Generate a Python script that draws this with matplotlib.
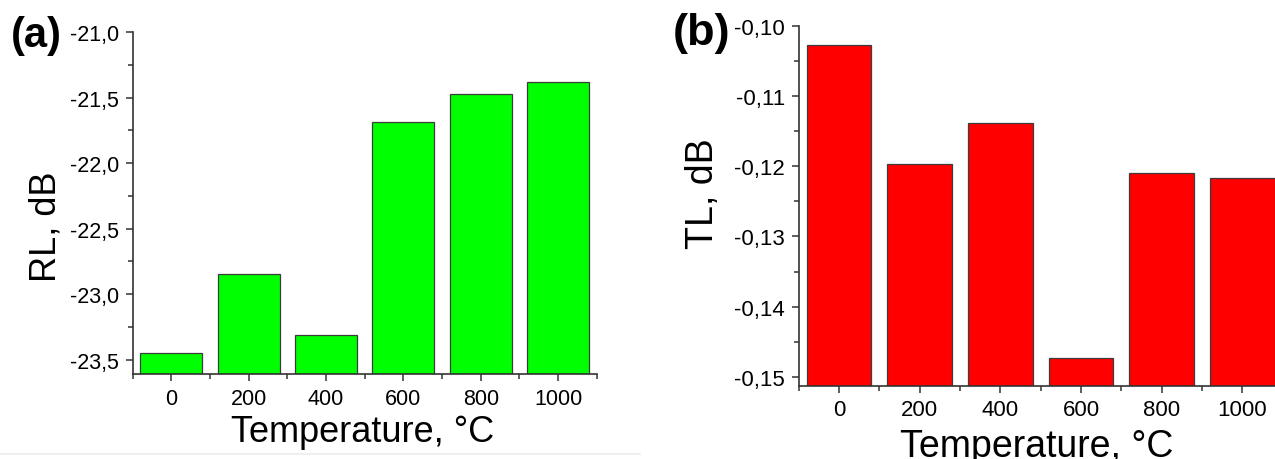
import matplotlib
matplotlib.use("Agg")
import matplotlib.pyplot as plt
from matplotlib.ticker import MultipleLocator, FixedLocator, FuncFormatter
from matplotlib.lines import Line2D

plt.rcParams['font.family'] = ['Liberation Sans', 'DejaVu Sans']

# Annealing temperatures (°C)
temperatures = [0, 200, 400, 600, 800, 1000]

# (a) reflection loss, dB
rl_values = [-23.45, -22.85, -23.31, -21.69, -21.47, -21.38]
# (b) transmission loss, dB
tl_values = [-0.1026, -0.1196, -0.1138, -0.1474, -0.1210, -0.1216]

x_ticks = [0, 200, 400, 600, 800, 1000]
x_minor = [-100, 100, 300, 500, 700, 900, 1100]
rl_ticks = [-23.5, -23.0, -22.5, -22.0, -21.5, -21.0]
tl_ticks = [-0.15, -0.14, -0.13, -0.12, -0.11, -0.10]

rl_range = (-23.61, -21.0)
tl_range = (-0.1513, -0.10)

W, H = 1275, 460
fig = plt.figure(figsize=(W / 100, H / 100), dpi=100)


def px_axes(left, top, right, bottom):
    return fig.add_axes([left / W, 1 - bottom / H, (right - left) / W, (bottom - top) / H])


ax_a = px_axes(132.7, 33, 596.7, 375)
ax_b = px_axes(798.7, 27.3, 1282.6, 386.7)

spine_color = '#333333'
edge_color = '#3c3c3c'


def comma_fmt(decimals):
    return FuncFormatter(lambda v, pos: f"{v:.{decimals}f}".replace('.', ','))


def style(ax, yticks, decimals, ylim, tick_size):
    ax.set_xlim(-100, 1100)
    ax.set_ylim(*ylim)
    for s in ('top', 'right'):
        ax.spines[s].set_visible(False)
    for s in ('left', 'bottom'):
        ax.spines[s].set_color(spine_color)
        ax.spines[s].set_linewidth(1.2)
    ax.set_xticks(x_ticks)
    ax.set_xticklabels([str(t) for t in x_ticks])
    ax.xaxis.set_minor_locator(FixedLocator(x_minor))
    ax.set_yticks(yticks)
    ax.yaxis.set_major_formatter(comma_fmt(decimals))
    step = yticks[1] - yticks[0]
    ax.yaxis.set_minor_locator(MultipleLocator(step / 2))
    ax.tick_params(which='major', direction='out', length=4.8, width=1.1,
                   color=spine_color, labelsize=tick_size, pad=5)
    ax.tick_params(which='minor', direction='out', length=3.4, width=1.1,
                   color=spine_color)


def floor_bars(ax, values, base, color):
    # bars rise from the lower edge of the value axis
    ax.bar(temperatures, [v - base for v in values], width=160, bottom=base,
           color=color, edgecolor=edge_color, linewidth=0.9)


floor_bars(ax_a, rl_values, rl_range[0], '#00ff00')
floor_bars(ax_b, tl_values, tl_range[0], '#ff0000')

style(ax_a, rl_ticks, 1, rl_range, 15.5)
style(ax_b, tl_ticks, 2, tl_range, 16)

ax_a.set_xlabel('Temperature, °C', fontsize=26, va='baseline')
ax_a.xaxis.set_label_coords(0.496, -0.197)
ax_a.set_ylabel('RL, dB', fontsize=26, va='center')
ax_a.yaxis.set_label_coords(-0.1858, 0.433)

ax_b.set_xlabel('Temperature, °C', fontsize=27, va='baseline')
ax_b.xaxis.set_label_coords(0.492, -0.1956)
ax_b.set_ylabel('TL, dB', fontsize=27, va='center')
ax_b.yaxis.set_label_coords(-0.1978, 0.5376)

fig.text(11 / W, 1 - 16 / H, '(a)', fontsize=30, fontweight='bold',
         ha='left', va='top')
fig.text(673 / W, 1 - 13 / H, '(b)', fontsize=32.5, fontweight='bold',
         ha='left', va='top')

fig.add_artist(Line2D([0, 640 / W], [1 - 455 / H, 1 - 455 / H],
                      transform=fig.transFigure, color='#ececec', lw=1.2))

fig.savefig('out.png', dpi=100)
